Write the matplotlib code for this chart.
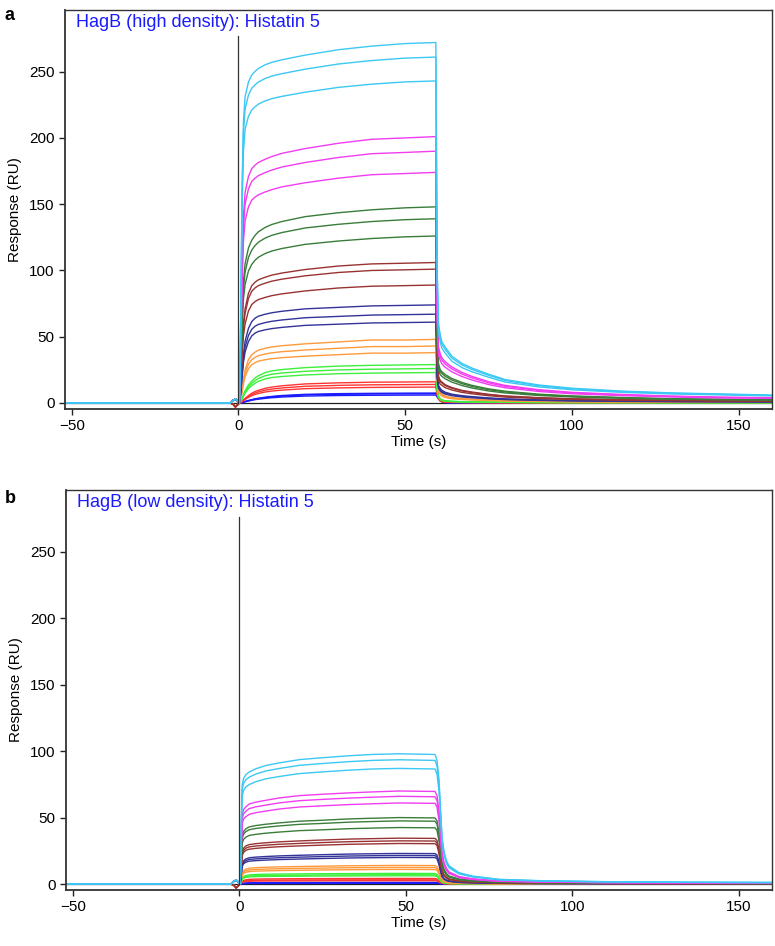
import numpy as np
import matplotlib
matplotlib.use('Agg')
import matplotlib.pyplot as plt

plt.rcParams['font.family'] = ['Liberation Sans', 'DejaVu Sans']

# ---------------- data ----------------
group_names = ['blue', 'red', 'lime', 'orange', 'navy', 'brown', 'green', 'magenta', 'cyan']
group_colors = ['#1a1aff', '#ff3535', '#3cf03c', '#ff9a3c', '#33339a',
                '#993333', '#3a7d3a', '#f23cf2', '#3cc8f4']

# pre-injection baseline with the injection spike (RU, absolute)
t_base = [-52, -2.5, -1.6, -0.9, -0.3]
base_up = [0, 0, 2.0, 3.0, 1.5]
base_dn = [0, 0, -1.0, -3.0, -1.5]

# association phase: fraction of plateau level
t_assoc_a = [0.3, 0.7, 1.1, 1.5, 2, 3, 4, 5, 6, 8, 10, 13, 20, 30, 40, 50, 59.2]
assoc_a = {
    'cyan':    [0, 0.25, 0.60, 0.78, 0.85, 0.89, 0.91, 0.92, 0.928, 0.938, 0.945, 0.952, 0.965, 0.98, 0.99, 0.997, 1.0],
    'magenta': [0, 0.22, 0.52, 0.70, 0.79, 0.85, 0.88, 0.893, 0.903, 0.915, 0.925, 0.937, 0.955, 0.975, 0.99, 0.995, 1.0],
    'green':   [0, 0.18, 0.45, 0.62, 0.71, 0.79, 0.83, 0.855, 0.873, 0.895, 0.91, 0.925, 0.95, 0.97, 0.985, 0.995, 1.0],
    'brown':   [0, 0.16, 0.40, 0.57, 0.67, 0.78, 0.835, 0.86, 0.877, 0.895, 0.91, 0.925, 0.95, 0.975, 0.99, 0.995, 1.0],
    'navy':    [0, 0.12, 0.32, 0.50, 0.63, 0.76, 0.83, 0.865, 0.885, 0.905, 0.92, 0.935, 0.96, 0.975, 0.99, 0.995, 1.0],
    'orange':  [0, 0.08, 0.22, 0.38, 0.52, 0.68, 0.76, 0.80, 0.83, 0.86, 0.88, 0.90, 0.93, 0.96, 0.99, 0.99, 1.0],
    'lime':    [0, 0.05, 0.12, 0.22, 0.32, 0.47, 0.57, 0.65, 0.71, 0.79, 0.835, 0.87, 0.92, 0.96, 0.98, 0.99, 1.0],
    'red':     [0, 0.03, 0.08, 0.15, 0.22, 0.35, 0.46, 0.54, 0.60, 0.69, 0.75, 0.81, 0.90, 0.95, 0.98, 0.99, 1.0],
    'blue':    [0, 0.02, 0.05, 0.10, 0.15, 0.25, 0.34, 0.42, 0.48, 0.58, 0.66, 0.75, 0.87, 0.94, 0.97, 0.99, 1.0],
}
t_dis_a = [59.6, 60.0, 60.5, 61, 62, 64, 67, 70, 75, 80, 90, 100, 115, 130, 145, 160]
dis_a = {
    'cyan':    [0.37, 0.22, 0.19, 0.17, 0.155, 0.13, 0.11, 0.097, 0.08, 0.065, 0.05, 0.041, 0.033, 0.028, 0.025, 0.022],
    'magenta': [0.35, 0.21, 0.185, 0.17, 0.155, 0.135, 0.115, 0.10, 0.08, 0.066, 0.05, 0.04, 0.032, 0.026, 0.022, 0.02],
    'green':   [0.33, 0.20, 0.17, 0.16, 0.145, 0.125, 0.105, 0.09, 0.072, 0.06, 0.045, 0.036, 0.028, 0.022, 0.019, 0.017],
    'brown':   [0.32, 0.19, 0.16, 0.15, 0.13, 0.11, 0.09, 0.078, 0.062, 0.05, 0.038, 0.03, 0.024, 0.02, 0.017, 0.015],
    'navy':    [0.30, 0.18, 0.15, 0.13, 0.11, 0.09, 0.075, 0.065, 0.052, 0.042, 0.032, 0.026, 0.02, 0.017, 0.015, 0.013],
    'orange':  [0.45, 0.22, 0.17, 0.14, 0.11, 0.085, 0.07, 0.06, 0.05, 0.04, 0.03, 0.024, 0.02, 0.016, 0.014, 0.012],
    'lime':    [0.40, 0.18, 0.11, 0.08, 0.06, 0.045, 0.035, 0.03, 0.025, 0.02, 0.015, 0.012, 0.01, 0.008, 0.007, 0.006],
    'red':     [0.50, 0.25, 0.12, 0.08, 0.05, 0.035, 0.03, 0.025, 0.02, 0.016, 0.012, 0.01, 0.008, 0.006, 0.005, 0.004],
    'blue':    [0.75, 0.50, 0.28, 0.15, 0.05, 0.02, 0.01, 0, 0, 0, 0, 0, 0, 0, 0, 0],
}
levels_a = {
    'cyan': [272, 261, 243], 'magenta': [201, 190, 174], 'green': [148, 139, 126],
    'brown': [106, 101, 89], 'navy': [74, 67, 61], 'orange': [48, 43, 38],
    'lime': [29, 26, 23], 'red': [16, 14, 12], 'blue': [7.5, 7, 6],
}

t_assoc_b = [0.3, 0.6, 0.9, 1.3, 2, 3, 5, 8, 12, 18, 25, 33, 40, 48, 58.8]
assoc_b = {
    'cyan':    [0, 0.45, 0.76, 0.81, 0.84, 0.86, 0.885, 0.91, 0.93, 0.955, 0.97, 0.985, 0.995, 1.0, 0.995],
    'magenta': [0, 0.42, 0.74, 0.80, 0.83, 0.86, 0.88, 0.90, 0.925, 0.95, 0.965, 0.98, 0.99, 1.0, 0.995],
    'green':   [0, 0.40, 0.72, 0.79, 0.83, 0.86, 0.88, 0.90, 0.92, 0.945, 0.96, 0.98, 0.99, 1.0, 0.995],
    'brown':   [0, 0.38, 0.70, 0.78, 0.83, 0.86, 0.88, 0.90, 0.92, 0.94, 0.96, 0.98, 0.99, 1.0, 0.995],
    'navy':    [0, 0.35, 0.66, 0.76, 0.82, 0.86, 0.88, 0.90, 0.92, 0.94, 0.96, 0.98, 0.99, 1.0, 0.995],
    'orange':  [0, 0.30, 0.60, 0.72, 0.80, 0.85, 0.88, 0.90, 0.92, 0.94, 0.96, 0.98, 0.99, 1.0, 0.99],
    'lime':    [0, 0.25, 0.55, 0.70, 0.80, 0.86, 0.90, 0.92, 0.94, 0.95, 0.97, 0.98, 0.99, 1.0, 0.99],
    'red':     [0, 0.20, 0.45, 0.62, 0.75, 0.83, 0.88, 0.91, 0.93, 0.95, 0.97, 0.98, 0.99, 1.0, 0.99],
    'blue':    [0, 0.15, 0.35, 0.50, 0.65, 0.75, 0.83, 0.88, 0.92, 0.95, 0.97, 0.98, 0.99, 1.0, 0.99],
}
t_dis_b = [59.4, 60.0, 60.4, 60.9, 61.5, 62.2, 63, 66, 70, 78, 90, 110, 135, 160]
dis_b = {
    'cyan':    [0.95, 0.80, 0.60, 0.36, 0.25, 0.18, 0.14, 0.087, 0.061, 0.036, 0.026, 0.018, 0.014, 0.012],
    'magenta': [0.95, 0.78, 0.58, 0.34, 0.23, 0.17, 0.13, 0.08, 0.056, 0.033, 0.024, 0.016, 0.012, 0.01],
    'green':   [0.95, 0.76, 0.55, 0.32, 0.22, 0.16, 0.12, 0.075, 0.052, 0.03, 0.022, 0.015, 0.011, 0.009],
    'brown':   [0.95, 0.75, 0.52, 0.30, 0.20, 0.15, 0.11, 0.07, 0.05, 0.028, 0.02, 0.014, 0.01, 0.008],
    'navy':    [0.95, 0.72, 0.50, 0.28, 0.18, 0.13, 0.10, 0.06, 0.045, 0.025, 0.018, 0.012, 0.009, 0.007],
    'orange':  [0.93, 0.68, 0.45, 0.25, 0.16, 0.11, 0.08, 0.05, 0.035, 0.02, 0.014, 0.01, 0.008, 0.006],
    'lime':    [0.90, 0.62, 0.40, 0.22, 0.13, 0.09, 0.06, 0.04, 0.03, 0.018, 0.012, 0.008, 0.006, 0.005],
    'red':     [0.90, 0.60, 0.38, 0.20, 0.12, 0.08, 0.05, 0.03, 0.02, 0.01, 0.008, 0.005, 0.004, 0.003],
    'blue':    [0.90, 0.55, 0.30, 0.15, 0.08, 0.04, 0.02, 0.01, 0, 0, 0, 0, 0, 0],
}
levels_b = {
    'cyan': [98, 93.5, 87], 'magenta': [70, 66, 61], 'green': [50, 47.5, 42.5],
    'brown': [34.5, 32.5, 30.5], 'navy': [23, 21.5, 20], 'orange': [14, 12.5, 11],
    'lime': [8, 7, 6.2], 'red': [4.2, 3.2, 2.5], 'blue': [1.2, 0.8, 0.5],
}
spike_down = ['orange', 'brown', 'red']

titles = ['HagB (high density): Histatin 5', 'HagB (low density): Histatin 5']
panel_tags = ['a', 'b']
x_ticks = [-50, 0, 50, 100, 150]
y_ticks = [0, 50, 100, 150, 200, 250]
inject_top = [277, 276]


def draw_panel(ax, t_assoc, assoc, t_dis, dis, levels):
    t_all = np.array(t_base + t_assoc + t_dis)
    # blank (buffer) trace
    ax.plot(t_all, np.zeros_like(t_all), color='#222222', lw=0.9, zorder=1)
    for name, col in zip(group_names, group_colors):
        base = base_dn if name in spike_down else base_up
        for lev in levels[name]:
            y = np.concatenate([base, lev * np.array(assoc[name]), lev * np.array(dis[name])])
            ax.plot(t_all, y, color=col, lw=1.0, zorder=2)


fig = plt.figure(figsize=(7.75, 9.46), dpi=100)
ax_a = fig.add_axes([0.0839, 0.5677, 0.9122, 0.4217])
ax_b = fig.add_axes([0.0852, 0.0592, 0.9110, 0.4228])

panels = [(ax_a, t_assoc_a, assoc_a, t_dis_a, dis_a, levels_a),
          (ax_b, t_assoc_b, assoc_b, t_dis_b, dis_b, levels_b)]

for i, (ax, ta, asc, td, ds, lv) in enumerate(panels):
    draw_panel(ax, ta, asc, td, ds, lv)
    ax.plot([0, 0], [0, inject_top[i]], color='#333333', lw=0.9, zorder=3)
    ax.set_xlim(-52, 160)
    ax.set_ylim(-4.5, 296.5)
    ax.set_xticks(x_ticks)
    ax.set_xticklabels(['\u221250', '0', '50', '100', '150'])
    ax.set_yticks(y_ticks)
    ax.tick_params(direction='out', length=4, width=1.0, labelsize=11, color='#222222')
    for sp in ax.spines.values():
        sp.set_color('#333333')
        sp.set_linewidth(1.0)
    ax.spines['left'].set_linewidth(1.3)
    ax.spines['bottom'].set_linewidth(1.3)
    ax.set_xlabel('Time (s)', fontsize=11, labelpad=1)
    ax.set_ylabel('Response (RU)', fontsize=11, labelpad=5)
    ax.text(0.016, 0.958, titles[i], transform=ax.transAxes, color='#1a1aff',
            fontsize=13, ha='left', va='baseline')

fig.text(0.006, 0.979, panel_tags[0], fontsize=13, fontweight='bold', va='baseline')
fig.text(0.006, 0.468, panel_tags[1], fontsize=13, fontweight='bold', va='baseline')

fig.savefig('out.png', dpi=100)
